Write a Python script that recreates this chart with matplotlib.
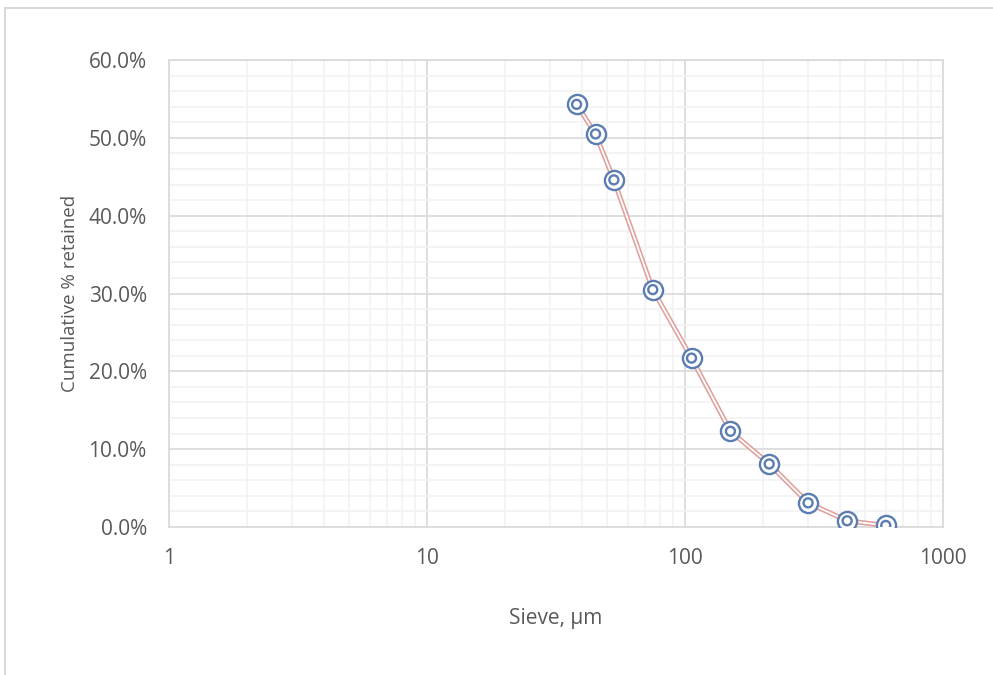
import matplotlib
matplotlib.use('Agg')

import matplotlib.pyplot as plt
from matplotlib.ticker import FixedLocator, FuncFormatter, LogLocator, NullFormatter
from matplotlib.patches import Rectangle

# sieve sizes (um) and cumulative % retained
sieve = [38, 45, 53, 75, 106, 150, 212, 300, 425, 600]
retained = [54.3, 50.5, 44.6, 30.5, 21.7, 12.3, 8.1, 3.1, 0.8, 0.2]

x_ticks = [1, 10, 100, 1000]
y_ticks = [0, 10, 20, 30, 40, 50, 60]

plt.rcParams['font.family'] = ['Open Sans', 'DejaVu Sans']

fig = plt.figure(figsize=(9.93, 6.75), dpi=100)
W, H = 993, 675
ax = fig.add_axes([169 / W, 1 - 527 / H, (943 - 169) / W, (527 - 60) / H])

# chart border
fig.patches.append(Rectangle((5 / W, -0.1), 1.2, 1 - 8 / H + 0.1, transform=fig.transFigure,
                             fill=False, edgecolor='#D9D9D9', linewidth=1.5))

ax.set_xscale('log')
ax.set_xlim(1, 1000)
ax.set_ylim(0, 60)

ax.xaxis.set_major_locator(FixedLocator(x_ticks))
ax.xaxis.set_major_formatter(FuncFormatter(lambda v, p: f"{v:g}"))
ax.xaxis.set_minor_locator(LogLocator(base=10, subs=range(2, 10)))
ax.xaxis.set_minor_formatter(NullFormatter())
ax.yaxis.set_major_locator(FixedLocator(y_ticks))
ax.yaxis.set_minor_locator(FixedLocator([v for v in range(0, 61, 2)]))
ax.yaxis.set_major_formatter(FuncFormatter(lambda v, p: f"{v:.1f}%"))

ax.grid(True, which='minor', color='#F2F2F2', linewidth=1.2)
ax.grid(True, which='major', color='#D9D9D9', linewidth=1.2)
ax.set_axisbelow(True)
ax.tick_params(which='both', length=0)
ax.tick_params(axis='x', pad=15, labelsize=15, labelcolor='#595959')
ax.tick_params(axis='y', pad=16, labelsize=15, labelcolor='#595959')
for s in ax.spines.values():
    s.set_color('#D9D9D9')
    s.set_linewidth(1.2)

# double line
ax.plot(sieve, retained, color='#DFA09C', linewidth=3.6, zorder=3, solid_joinstyle='round')
ax.plot(sieve, retained, color='white', linewidth=1.3, zorder=3, solid_joinstyle='round')

# double-ring markers
ax.scatter(sieve, retained, s=190, facecolors='white', edgecolors='#5B7DB1', linewidths=1.7, zorder=4)
ax.scatter(sieve, retained, s=42, facecolors='none', edgecolors='#5B7DB1', linewidths=1.7, zorder=5)

ax.set_xlabel("Sieve, µm", fontsize=15, color='#595959', labelpad=28)
ax.set_ylabel("Cumulative % retained", fontsize=13.5, color='#595959', labelpad=7)

fig.savefig("out.png", dpi=100)
